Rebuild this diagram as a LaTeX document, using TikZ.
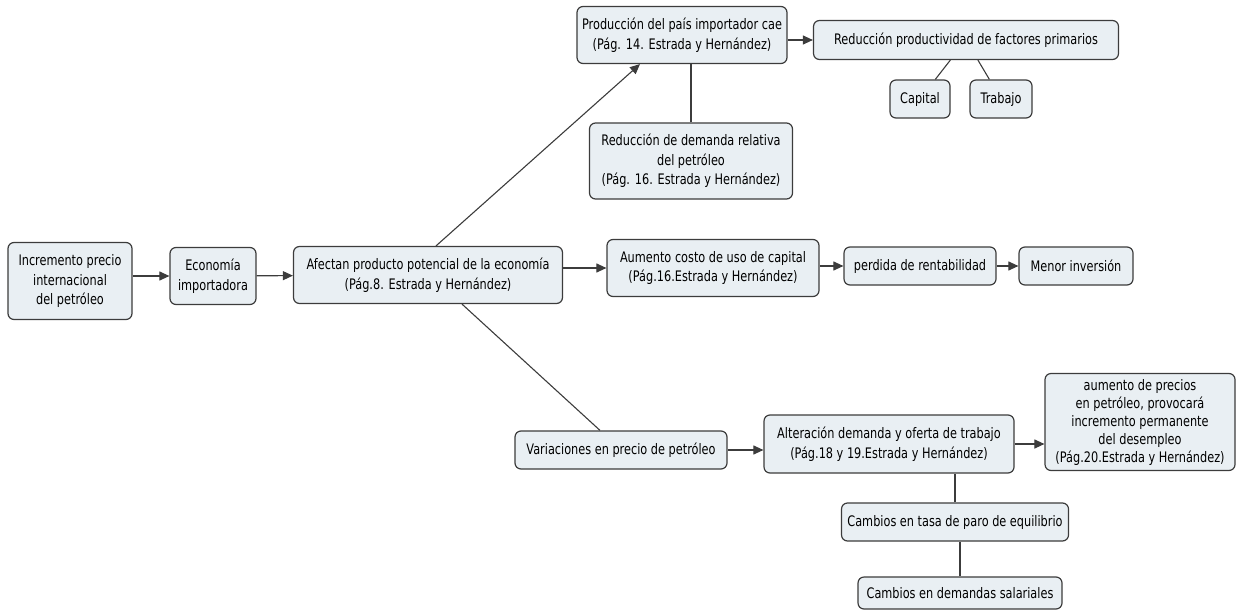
\documentclass[tikz,border=0pt]{standalone}
\usepackage{fontspec}
\setmainfont[FakeStretch=0.78]{DejaVu Sans}
\usetikzlibrary{arrows.meta,calc}
\definecolor{boxfill}{RGB}{233,239,243}
\definecolor{boxline}{RGB}{60,60,60}
\tikzset{
  concept/.style={draw=boxline, fill=boxfill, rounded corners=6pt, line width=1.2pt,
    align=center, inner sep=0pt, font=\fontsize{14.5}{19.5}\selectfont},
  link/.style={draw=boxline, line width=1.1pt},
  arr/.style={link, -{Triangle[length=10pt,width=9pt]}},
}
\begin{document}
\begin{tikzpicture}[x=1pt,y=-1pt]
  \useasboundingbox (0,0) rectangle (1238,610);
  % main chain, left to right
  \node[concept, minimum width=124, minimum height=77] (inc) at (70,281) {Incremento precio\\internacional\\del petróleo};
  \node[concept, minimum width=86, minimum height=57] (eco) at (213,276) {Economía\\importadora};
  \node[concept, minimum width=269, minimum height=57] (afe) at (428,275) {Afectan producto potencial de la economía\\(Pág.8. Estrada y Hernández)};

  % upper branch
  \node[concept, minimum width=210, minimum height=57] (prod) at (682,35) {Producción del país importador cae\\(Pág. 14. Estrada y Hernández)};
  \node[concept, minimum width=305, minimum height=39] (redprod) at (966,40) {Reducción productividad de factores primarios};
  \node[concept, minimum width=60, minimum height=38] (capital) at (920,99) {Capital};
  \node[concept, minimum width=62, minimum height=38] (trabajo) at (1001,99) {Trabajo};
  \node[concept, minimum width=203, minimum height=76] (reddem) at (691,161) {Reducción de demanda relativa\\del petróleo\\(Pág. 16. Estrada y Hernández)};

  % middle branch
  \node[concept, minimum width=212, minimum height=57] (aum) at (713,268) {Aumento costo de uso de capital\\(Pág.16.Estrada y Hernández)};
  \node[concept, minimum width=152, minimum height=38] (perd) at (920,266) {perdida de rentabilidad};
  \node[concept, minimum width=114, minimum height=38] (menor) at (1076,266) {Menor inversión};

  % lower branch
  \node[concept, minimum width=212, minimum height=38] (var) at (621,450) {Variaciones en precio de petróleo};
  \node[concept, minimum width=250, minimum height=58] (alt) at (889,444) {Alteración demanda y oferta de trabajo\\(Pág.18 y 19.Estrada y Hernández)};
  \node[concept, minimum width=190, minimum height=97, font=\fontsize{14.5}{18}\selectfont] (desemp) at (1140,422) {aumento de precios\\en petróleo, provocará\\incremento permanente\\del desempleo\\(Pág.20.Estrada y Hernández)};
  \node[concept, minimum width=227, minimum height=38] (tasa) at (955,522) {Cambios en tasa de paro de equilibrio};
  \node[concept, minimum width=204, minimum height=32] (salar) at (960,593) {Cambios en demandas salariales};

  \draw[arr] (inc.east |- eco) -- (eco.west);
  \draw[arr] (eco) -- (afe);
  \draw[arr] (afe.east |- aum) -- (aum.west);
  \draw[arr] (aum.east |- perd) -- (perd.west);
  \draw[arr] (perd) -- (menor);
  \draw[arr] ($(afe.north)+(8,0)$) -- ($(prod.south)+(-42,0)$);
  \draw[arr] (prod.east |- redprod) -- (redprod.west);
  \draw[link] (reddem.north) -- (reddem.north |- prod.south);
  \draw[link] (capital) -- (redprod);
  \draw[link] (trabajo) -- (redprod);
  \draw[link] ($(afe.south)+(34,0)$) -- ($(var.north)+(-21,0)$);
  \draw[arr] (var.east) -- (var.east -| alt.west);
  \draw[arr] (alt.east) -- (alt.east -| desemp.west);
  \draw[link] (tasa.north) -- (tasa.north |- alt.south);
  \draw[link] (salar.north) -- (salar.north |- tasa.south);
\end{tikzpicture}
\end{document}
